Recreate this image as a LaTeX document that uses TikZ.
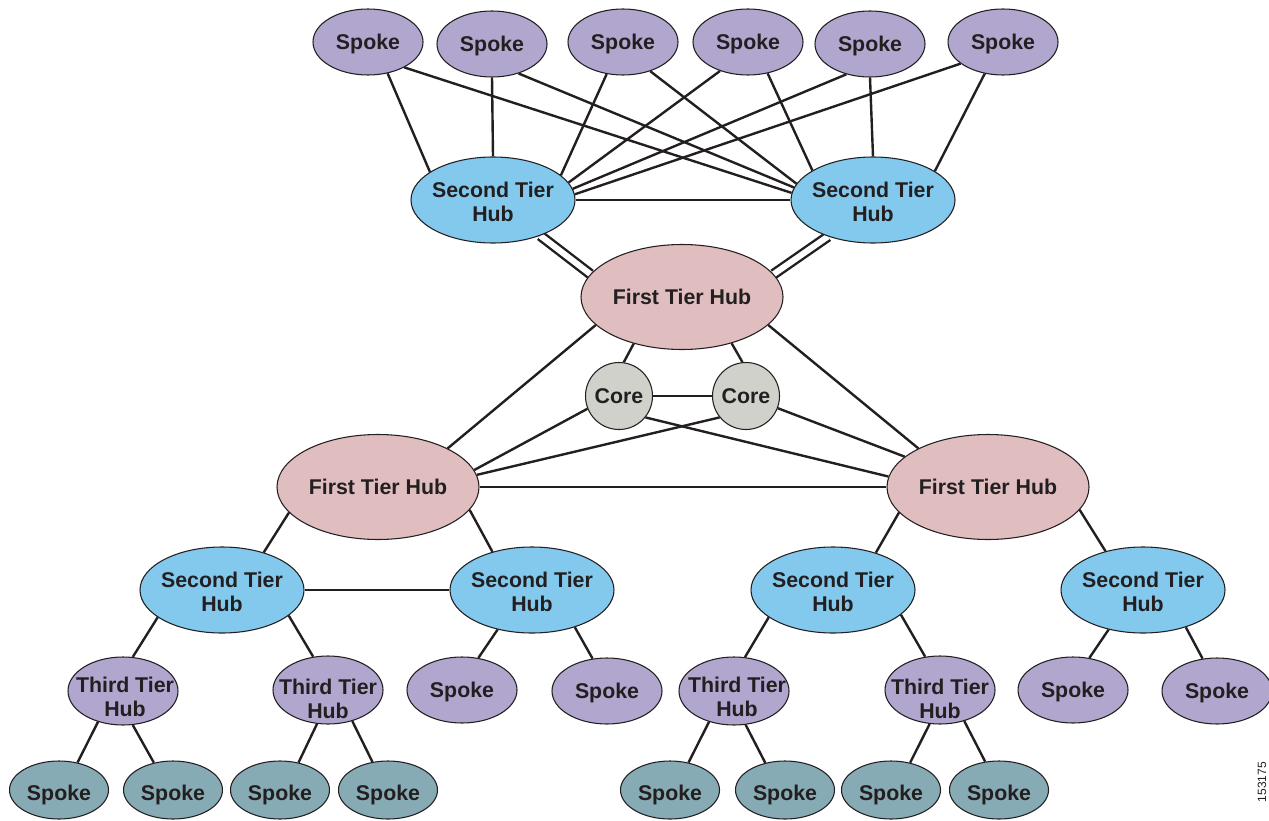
\documentclass[tikz,border=0pt]{standalone}
\usepackage{fontspec}
\setmainfont{Liberation Sans}
\usetikzlibrary{shapes.geometric,backgrounds}
\definecolor{spokepurple}{RGB}{177,166,206}
\definecolor{hubblue}{RGB}{130,201,237}
\definecolor{hubpink}{RGB}{224,190,192}
\definecolor{coregray}{RGB}{208,209,203}
\definecolor{spoketeal}{RGB}{134,171,181}
\definecolor{ink}{RGB}{35,31,32}
\begin{document}
\begin{tikzpicture}[x=0.75pt,y=-0.75pt,
  txt/.style={text=ink, align=center, inner sep=0pt, font=\bfseries\fontsize{16}{18}\selectfont},
  lab/.style={txt, yshift=-1.5pt},
  tlab/.style={txt, yshift=-3.5pt},
  base/.style={ellipse, draw=ink, line width=0.8pt, inner sep=0pt},
  pspoke/.style={base, fill=spokepurple, minimum width=82.5pt, minimum height=49.5pt},
  hubtwo/.style={base, fill=hubblue, minimum width=123pt, minimum height=64.5pt},
  hubone/.style={base, fill=hubpink, minimum width=151.5pt, minimum height=78.75pt},
  corenode/.style={base, circle, fill=coregray, minimum size=50.25pt},
  hubthree/.style={base, fill=spokepurple, minimum width=82.5pt, minimum height=51pt},
  tspoke/.style={base, fill=spoketeal, minimum width=74.25pt, minimum height=43.5pt},
  link/.style={draw=ink, line width=1.8pt},
  dlink/.style={draw=ink, line width=1.8pt, double=white, double distance=4.5pt}]
\useasboundingbox (0,0) rectangle (1269,820);

% top spokes
\node[pspoke, label={[lab]center:Spoke}] (s1) at (368,42) {};
\node[pspoke, label={[lab]center:Spoke}] (s2) at (492,44) {};
\node[pspoke, label={[lab]center:Spoke}] (s3) at (623,42) {};
\node[pspoke, label={[lab]center:Spoke}] (s4) at (748,42) {};
\node[pspoke, label={[lab]center:Spoke}] (s5) at (870,44) {};
\node[pspoke, label={[lab]center:Spoke}] (s6) at (1003,42) {};

% second tier hubs (top)
\node[hubtwo, label={[lab]center:{Second Tier\\Hub}}] (l2) at (493,200) {};
\node[hubtwo, label={[lab]center:{Second Tier\\Hub}}] (r2) at (873,200) {};

% first tier hubs
\node[hubone, label={[txt]center:First Tier Hub}] (ft) at (682,297) {};
\node[hubone, label={[txt]center:First Tier Hub}] (fl) at (378,487) {};
\node[hubone, label={[txt]center:First Tier Hub}] (fr) at (988,487) {};

% cores
\node[corenode, label={[txt]center:Core}] (cl) at (619,396) {};
\node[corenode, label={[txt]center:Core}] (cr) at (746,396) {};

% second tier hubs (bottom)
\node[hubtwo, label={[lab]center:{Second Tier\\Hub}}] (b1) at (222,590) {};
\node[hubtwo, label={[lab]center:{Second Tier\\Hub}}] (b2) at (532,590) {};
\node[hubtwo, label={[lab]center:{Second Tier\\Hub}}] (b3) at (833,590) {};
\node[hubtwo, label={[lab]center:{Second Tier\\Hub}}] (b4) at (1143,590) {};

% third tier hubs
\node[hubthree] (t1) at (123,691) {};
\node[txt] (t1t) at (125,697) {Third Tier\\Hub};
\node[hubthree] (t2) at (328,690) {};
\node[txt] (t2t) at (328,699) {Third Tier\\Hub};
\node[hubthree] (t3) at (734,691) {};
\node[txt] (t3t) at (737,697) {Third Tier\\Hub};
\node[hubthree] (t4) at (940,690) {};
\node[txt] (t4t) at (940,699) {Third Tier\\Hub};

% purple spokes (bottom)
\node[pspoke, label={[lab]center:Spoke}] (p1) at (462,690) {};
\node[pspoke, label={[lab]center:Spoke}] (p2) at (607,691) {};
\node[pspoke, label={[lab]center:Spoke}] (p3) at (1073,690) {};
\node[pspoke, label={[lab]center:Spoke}] (p4) at (1217,691) {};

% teal spokes
\node[tspoke, label={[tlab]center:Spoke}] (g1) at (59,790) {};
\node[tspoke, label={[tlab]center:Spoke}] (g2) at (173,790) {};
\node[tspoke, label={[tlab]center:Spoke}] (g3) at (280,790) {};
\node[tspoke, label={[tlab]center:Spoke}] (g4) at (388,790) {};
\node[tspoke, label={[tlab]center:Spoke}] (g5) at (670,790) {};
\node[tspoke, label={[tlab]center:Spoke}] (g6) at (785,790) {};
\node[tspoke, label={[tlab]center:Spoke}] (g7) at (891,790) {};
\node[tspoke, label={[tlab]center:Spoke}] (g8) at (999,790) {};

\node[rotate=90, text=ink, inner sep=0pt, font=\fontsize{9}{10}\selectfont] (fig) at (1262,782) {153175};

\begin{pgfonlayer}{background}
% spokes to top second tier hubs
\draw[link] (s1.-58) -- (l2.156);
\draw[link] (s1.-35) -- (r2.175);
\draw[link] (s2.-90) -- (l2.90);
\draw[link] (s2.-48) -- (r2.171);
\draw[link] (s3.-117) -- (l2.20);
\draw[link] (s3.-47) -- (r2.168);
\draw[link] (s4.-134) -- (l2.13);
\draw[link] (s4.-58) -- (r2.154);
\draw[link] (s5.-128) -- (l2.8);
\draw[link] (s5.-90) -- (r2.90);
\draw[link] (s6.-153) -- (l2.4);
\draw[link] (s6.-120) -- (r2.25);
\draw[link] (l2) -- (r2);
% double links to first tier hub
\draw[dlink] (l2.-37) -- (ft.166);
\draw[dlink] (r2.-141) -- (ft.14);
% first tier mesh and cores
\draw[link] (ft.-136) -- (cl.82);
\draw[link] (ft.-43) -- (cr.96);
\draw[link] (ft.-162) -- (fl.29);
\draw[link] (ft.-18) -- (fr.151);
\draw[link] (cl) -- (cr);
\draw[link] (cl.-158) -- (fl.10);
\draw[link] (cl.-39) -- (fr.174);
\draw[link] (cr.-141) -- (fl.7);
\draw[link] (cr.-21) -- (fr.160);
\draw[link] (fl) -- (fr);
% lower trees
\draw[link] (fl.-164) -- (b1.42);
\draw[link] (fl.-14) -- (b2.136);
\draw[link] (b1) -- (b2);
\draw[link] (fr.-164) -- (b3.41);
\draw[link] (fr.-14) -- (b4.134);
\draw[link] (b1.-157) -- (t1.74);
\draw[link] (b1.-21) -- (t2.114);
\draw[link] (b2.-131) -- (p1.63);
\draw[link] (b2.-41) -- (p2.114);
\draw[link] (b3.-157) -- (t3.72);
\draw[link] (b3.-20) -- (t4.114);
\draw[link] (b4.-131) -- (p3.63);
\draw[link] (b4.-41) -- (p4.114);
\draw[link] (t1.-129) -- (g1.56);
\draw[link] (t1.-74) -- (g2.125);
\draw[link] (t2.-108) -- (g3.56);
\draw[link] (t2.-52) -- (g4.119);
\draw[link] (t3.-129) -- (g5.56);
\draw[link] (t3.-71) -- (g6.126);
\draw[link] (t4.-107) -- (g7.55);
\draw[link] (t4.-52) -- (g8.116);
\end{pgfonlayer}
\end{tikzpicture}
\end{document}
